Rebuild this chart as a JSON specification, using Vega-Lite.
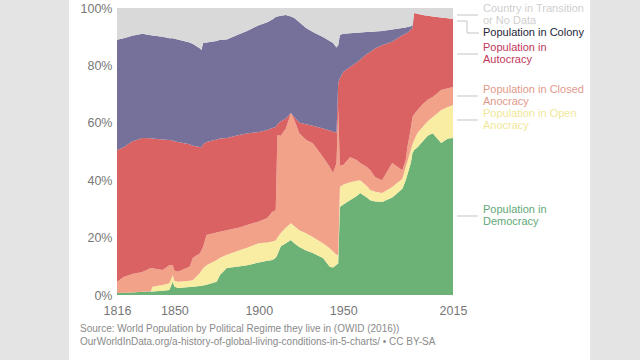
{
  "$schema": "https://vega.github.io/schema/vega-lite/v6.json",
  "width": 336,
  "height": 287,
  "autosize": {"type": "none"},
  "padding": {"left": 117, "top": 8, "right": 187, "bottom": 65},
  "background": "#ffffff",
  "config": {"view": {"stroke": null}, "font": "Liberation Sans"},
  "layer": [
    {
      "data": {"values": [
        {"year":1816,"1_Dem":0.7,"2_Open":0,"3_Closed":3.9,"4_Auto":45.9,"5_Colony":38.4,"6_Trans":11.1},
        {"year":1820,"1_Dem":0.8,"2_Open":0,"3_Closed":5.5,"4_Auto":45.2,"5_Colony":38,"6_Trans":10.5},
        {"year":1825,"1_Dem":0.9,"2_Open":0,"3_Closed":6.4,"4_Auto":46.2,"5_Colony":36.8,"6_Trans":9.7},
        {"year":1831,"1_Dem":1.1,"2_Open":0,"3_Closed":6.9,"4_Auto":46.7,"5_Colony":36.3,"6_Trans":9},
        {"year":1836,"1_Dem":1.2,"2_Open":0,"3_Closed":8.2,"4_Auto":45.2,"5_Colony":35.9,"6_Trans":9.5},
        {"year":1837,"1_Dem":1.2,"2_Open":1.7,"3_Closed":6.4,"4_Auto":45.2,"5_Colony":35.9,"6_Trans":9.6},
        {"year":1843,"1_Dem":1.5,"2_Open":2,"3_Closed":5.2,"4_Auto":45.5,"5_Colony":35.8,"6_Trans":10},
        {"year":1847,"1_Dem":1.7,"2_Open":2.4,"3_Closed":6.3,"4_Auto":43.6,"5_Colony":35.5,"6_Trans":10.5},
        {"year":1849,"1_Dem":4.6,"2_Open":2.4,"3_Closed":3.4,"4_Auto":43.4,"5_Colony":35.7,"6_Trans":10.5},
        {"year":1850,"1_Dem":3,"2_Open":2,"3_Closed":3.5,"4_Auto":45.1,"5_Colony":35.7,"6_Trans":10.7},
        {"year":1852,"1_Dem":2.4,"2_Open":2.2,"3_Closed":3.5,"4_Auto":45.2,"5_Colony":35.7,"6_Trans":11},
        {"year":1859,"1_Dem":2.8,"2_Open":2.2,"3_Closed":4.8,"4_Auto":42.7,"5_Colony":35.5,"6_Trans":12},
        {"year":1861,"1_Dem":2.9,"2_Open":2.3,"3_Closed":7.8,"4_Auto":39,"5_Colony":35.5,"6_Trans":12.5},
        {"year":1865,"1_Dem":3.1,"2_Open":4.5,"3_Closed":6.9,"4_Auto":37.1,"5_Colony":34.4,"6_Trans":14},
        {"year":1866,"1_Dem":3.2,"2_Open":5.3,"3_Closed":7,"4_Auto":35.9,"5_Colony":34,"6_Trans":14.6},
        {"year":1867,"1_Dem":3.3,"2_Open":6,"3_Closed":7.5,"4_Auto":35.7,"5_Colony":35.3,"6_Trans":12.2},
        {"year":1869,"1_Dem":3.6,"2_Open":6.8,"3_Closed":10.5,"4_Auto":32.4,"5_Colony":34.7,"6_Trans":12},
        {"year":1875,"1_Dem":4.6,"2_Open":7.6,"3_Closed":9.6,"4_Auto":32.4,"5_Colony":34.3,"6_Trans":11.5},
        {"year":1877,"1_Dem":7,"2_Open":6,"3_Closed":9,"4_Auto":32.5,"5_Colony":34.4,"6_Trans":11.1},
        {"year":1881,"1_Dem":9.4,"2_Open":4.6,"3_Closed":8.6,"4_Auto":32.1,"5_Colony":34.3,"6_Trans":11},
        {"year":1889,"1_Dem":10,"2_Open":5.7,"3_Closed":7.9,"4_Auto":32.2,"5_Colony":35.2,"6_Trans":9},
        {"year":1893,"1_Dem":10.4,"2_Open":6.1,"3_Closed":7.9,"4_Auto":31.9,"5_Colony":35.7,"6_Trans":8},
        {"year":1900,"1_Dem":11.3,"2_Open":6.7,"3_Closed":7.6,"4_Auto":31.2,"5_Colony":37.2,"6_Trans":6},
        {"year":1905,"1_Dem":11.9,"2_Open":6.4,"3_Closed":8.5,"4_Auto":30.7,"5_Colony":37.5,"6_Trans":5},
        {"year":1908,"1_Dem":12.2,"2_Open":6.4,"3_Closed":10.4,"4_Auto":29.2,"5_Colony":37.8,"6_Trans":4},
        {"year":1910,"1_Dem":13,"2_Open":6,"3_Closed":10.5,"4_Auto":29,"5_Colony":38.4,"6_Trans":3.1},
        {"year":1911,"1_Dem":14,"2_Open":6,"3_Closed":35.7,"4_Auto":3.8,"5_Colony":37.5,"6_Trans":3},
        {"year":1913,"1_Dem":17,"2_Open":4.6,"3_Closed":33.9,"4_Auto":5,"5_Colony":36.8,"6_Trans":2.7},
        {"year":1916,"1_Dem":18,"2_Open":5.5,"3_Closed":34.5,"4_Auto":3.5,"5_Colony":36.1,"6_Trans":2.4},
        {"year":1919,"1_Dem":19.2,"2_Open":5.8,"3_Closed":38.4,"4_Auto":0,"5_Colony":33.6,"6_Trans":3},
        {"year":1921,"1_Dem":18,"2_Open":6,"3_Closed":37,"4_Auto":1,"5_Colony":34.5,"6_Trans":3.5},
        {"year":1924,"1_Dem":16.7,"2_Open":5.9,"3_Closed":33.8,"4_Auto":3.6,"5_Colony":35,"6_Trans":5},
        {"year":1928,"1_Dem":15.5,"2_Open":6,"3_Closed":32.5,"4_Auto":5.5,"5_Colony":33.5,"6_Trans":7},
        {"year":1932,"1_Dem":14.6,"2_Open":5.6,"3_Closed":32.7,"4_Auto":6.1,"5_Colony":32.6,"6_Trans":8.4},
        {"year":1938,"1_Dem":12.9,"2_Open":5.1,"3_Closed":30.1,"4_Auto":9.9,"5_Colony":31.9,"6_Trans":10.1},
        {"year":1942,"1_Dem":9.8,"2_Open":6.5,"3_Closed":28.3,"4_Auto":12.7,"5_Colony":31.2,"6_Trans":11.5},
        {"year":1944,"1_Dem":9.6,"2_Open":5.6,"3_Closed":27.3,"4_Auto":14.5,"5_Colony":30.8,"6_Trans":12.2},
        {"year":1946,"1_Dem":10.5,"2_Open":3.5,"3_Closed":32,"4_Auto":10.5,"5_Colony":29.7,"6_Trans":13.8},
        {"year":1947,"1_Dem":11,"2_Open":3,"3_Closed":51,"4_Auto":8.9,"5_Colony":13.1,"6_Trans":13},
        {"year":1948,"1_Dem":30.7,"2_Open":6.9,"3_Closed":7.4,"4_Auto":30.5,"5_Colony":15.1,"6_Trans":9.4},
        {"year":1950,"1_Dem":31.5,"2_Open":7,"3_Closed":6.8,"4_Auto":32.4,"5_Colony":13.3,"6_Trans":9},
        {"year":1954,"1_Dem":33,"2_Open":6.3,"3_Closed":8.7,"4_Auto":31.4,"5_Colony":11.8,"6_Trans":8.8},
        {"year":1958,"1_Dem":34.5,"2_Open":5.3,"3_Closed":7.2,"4_Auto":34,"5_Colony":10.4,"6_Trans":8.6},
        {"year":1960,"1_Dem":35.5,"2_Open":4.5,"3_Closed":6,"4_Auto":36,"5_Colony":9.5,"6_Trans":8.5},
        {"year":1964,"1_Dem":34,"2_Open":4,"3_Closed":6.6,"4_Auto":39.4,"5_Colony":7.6,"6_Trans":8.4},
        {"year":1966,"1_Dem":33,"2_Open":3.6,"3_Closed":6.9,"4_Auto":41.2,"5_Colony":6.9,"6_Trans":8.4},
        {"year":1969,"1_Dem":32.6,"2_Open":3.4,"3_Closed":5,"4_Auto":45,"5_Colony":5.8,"6_Trans":8.2},
        {"year":1973,"1_Dem":32.4,"2_Open":3.1,"3_Closed":4.5,"4_Auto":47,"5_Colony":5,"6_Trans":8},
        {"year":1979,"1_Dem":34,"2_Open":3.6,"3_Closed":8.4,"4_Auto":42.2,"5_Colony":4.3,"6_Trans":7.5},
        {"year":1985,"1_Dem":37,"2_Open":3.5,"3_Closed":3,"4_Auto":47,"5_Colony":2.5,"6_Trans":7},
        {"year":1987,"1_Dem":40,"2_Open":4.6,"3_Closed":2.4,"4_Auto":44,"5_Colony":2.2,"6_Trans":6.8},
        {"year":1988,"1_Dem":42,"2_Open":4.5,"3_Closed":5.1,"4_Auto":39.7,"5_Colony":2.1,"6_Trans":6.6},
        {"year":1990,"1_Dem":46,"2_Open":4.5,"3_Closed":7.5,"4_Auto":34.5,"5_Colony":1.1,"6_Trans":6.4},
        {"year":1991,"1_Dem":49.5,"2_Open":3,"3_Closed":9.5,"4_Auto":31,"5_Colony":1,"6_Trans":6},
        {"year":1992,"1_Dem":50.5,"2_Open":3.5,"3_Closed":9,"4_Auto":35.3,"5_Colony":0,"6_Trans":1.7},
        {"year":1994,"1_Dem":51.5,"2_Open":5,"3_Closed":8,"4_Auto":33.5,"5_Colony":0,"6_Trans":2},
        {"year":1997,"1_Dem":53.5,"2_Open":5,"3_Closed":8,"4_Auto":31.1,"5_Colony":0,"6_Trans":2.4},
        {"year":2000,"1_Dem":55.5,"2_Open":5,"3_Closed":7.5,"4_Auto":29.3,"5_Colony":0,"6_Trans":2.7},
        {"year":2003,"1_Dem":56.4,"2_Open":5.6,"3_Closed":7,"4_Auto":28,"5_Colony":0,"6_Trans":3},
        {"year":2008,"1_Dem":53,"2_Open":11.5,"3_Closed":6.9,"4_Auto":25.3,"5_Colony":0,"6_Trans":3.3},
        {"year":2012,"1_Dem":54.5,"2_Open":11,"3_Closed":6.5,"4_Auto":24.4,"5_Colony":0,"6_Trans":3.6},
        {"year":2015,"1_Dem":54.7,"2_Open":11.5,"3_Closed":6.3,"4_Auto":23.7,"5_Colony":0,"6_Trans":3.8}
      ]},
      "transform": [{"fold": ["1_Dem","2_Open","3_Closed","4_Auto","5_Colony","6_Trans"], "as": ["regime","share"]}],
      "mark": {"type": "area", "interpolate": "linear"},
      "encoding": {
        "x": {"field": "year", "type": "quantitative",
          "scale": {"domain": [1816, 2015], "nice": false, "zero": false},
          "axis": {"values": [1816,1850,1900,1950,2015], "format": "d", "title": null, "domain": false, "ticks": false, "grid": false,
            "labelFontSize": 12.5, "labelColor": "#777777", "labelPadding": 9, "labelFlush": false}},
        "y": {"field": "share", "type": "quantitative", "stack": "zero",
          "scale": {"domain": [0, 100], "nice": false},
          "axis": {"values": [0,20,40,60,80,100], "labelExpr": "datum.value + '%'", "title": null, "domain": false, "ticks": false, "grid": false,
            "labelFontSize": 12.5, "labelColor": "#777777", "labelPadding": 5}},
        "order": {"field": "regime", "sort": "ascending"},
        "color": {"field": "regime", "type": "nominal",
          "scale": {"domain": ["1_Dem","2_Open","3_Closed","4_Auto","5_Colony","6_Trans"], "range": ["#6cb277","#f8eda2","#f1a288","#da6262","#75719b","#d9d9d9"]},
          "legend": null}
      }
    },
    {
      "data": {"values": [{}]},
      "mark": {"type": "rect", "color": "#e4e4e4", "clip": false},
      "encoding": {
        "x": {"datum": 1700, "type": "quantitative"},
        "x2": {"datum": 1787.6},
        "y": {"datum": -40, "type": "quantitative"},
        "y2": {"datum": 110}
      }
    },
    {
      "data": {"values": [{}]},
      "mark": {"type": "rect", "color": "#e4e4e4", "clip": false},
      "encoding": {
        "x": {"datum": 2096.2, "type": "quantitative"},
        "x2": {"datum": 2200},
        "y": {"datum": -40, "type": "quantitative"},
        "y2": {"datum": 110}
      }
    },
    {"data": {"values": [{}]}, "mark": {"type": "rule", "color": "#c4c4c4", "clip": false},
     "encoding": {"x": {"datum": 2017.4, "type": "quantitative"}, "x2": {"datum": 2029.8}, "y": {"datum": 97.56, "type": "quantitative"}}},
    {"data": {"values": [{}]}, "mark": {"type": "rule", "color": "#c4c4c4", "clip": false},
     "encoding": {"x": {"datum": 2017.4, "type": "quantitative"}, "x2": {"datum": 2023.3}, "y": {"datum": 95.47, "type": "quantitative"}}},
    {"data": {"values": [{}]}, "mark": {"type": "rule", "color": "#c4c4c4", "clip": false},
     "encoding": {"x": {"datum": 2023.3, "type": "quantitative"}, "y": {"datum": 95.47, "type": "quantitative"}, "y2": {"datum": 91.29}}},
    {"data": {"values": [{}]}, "mark": {"type": "rule", "color": "#c4c4c4", "clip": false},
     "encoding": {"x": {"datum": 2023.3, "type": "quantitative"}, "x2": {"datum": 2030.4}, "y": {"datum": 91.29, "type": "quantitative"}}},
    {"data": {"values": [{}]}, "mark": {"type": "rule", "color": "#c4c4c4", "clip": false},
     "encoding": {"x": {"datum": 2017.4, "type": "quantitative"}, "x2": {"datum": 2029.8}, "y": {"datum": 83.97, "type": "quantitative"}}},
    {"data": {"values": [{}]}, "mark": {"type": "rule", "color": "#c4c4c4", "clip": false},
     "encoding": {"x": {"datum": 2017.4, "type": "quantitative"}, "x2": {"datum": 2029.8}, "y": {"datum": 69.34, "type": "quantitative"}}},
    {"data": {"values": [{}]}, "mark": {"type": "rule", "color": "#c4c4c4", "clip": false},
     "encoding": {"x": {"datum": 2017.4, "type": "quantitative"}, "x2": {"datum": 2029.8}, "y": {"datum": 60.98, "type": "quantitative"}}},
    {"data": {"values": [{}]}, "mark": {"type": "rule", "color": "#c4c4c4", "clip": false},
     "encoding": {"x": {"datum": 2017.4, "type": "quantitative"}, "x2": {"datum": 2029.8}, "y": {"datum": 27.53, "type": "quantitative"}}},
    {"data": {"values": [{}]}, "mark": {"type": "text", "text": ["Country in Transition", "or No Data"], "align": "left", "baseline": "middle", "dx": 30, "dy": -5.75, "fontSize": 11, "lineHeight": 11.5, "color": "#cfcfcf", "clip": false},
     "encoding": {"x": {"datum": 2015, "type": "quantitative"}, "y": {"datum": 97.56, "type": "quantitative"}}},
    {"data": {"values": [{}]}, "mark": {"type": "text", "text": "Population in Colony", "align": "left", "baseline": "middle", "dx": 30, "fontSize": 11, "color": "#262637", "clip": false},
     "encoding": {"x": {"datum": 2015, "type": "quantitative"}, "y": {"datum": 91.29, "type": "quantitative"}}},
    {"data": {"values": [{}]}, "mark": {"type": "text", "text": ["Population in", "Autocracy"], "align": "left", "baseline": "middle", "dx": 30, "dy": -6, "fontSize": 11, "lineHeight": 12, "color": "#c2375c", "clip": false},
     "encoding": {"x": {"datum": 2015, "type": "quantitative"}, "y": {"datum": 83.97, "type": "quantitative"}}},
    {"data": {"values": [{}]}, "mark": {"type": "text", "text": ["Population in Closed", "Anocracy"], "align": "left", "baseline": "middle", "dx": 30, "dy": -6, "fontSize": 11, "lineHeight": 12, "color": "#e2998c", "clip": false},
     "encoding": {"x": {"datum": 2015, "type": "quantitative"}, "y": {"datum": 69.34, "type": "quantitative"}}},
    {"data": {"values": [{}]}, "mark": {"type": "text", "text": ["Population in Open", "Anocracy"], "align": "left", "baseline": "middle", "dx": 30, "dy": -6, "fontSize": 11, "lineHeight": 12, "color": "#f0e898", "clip": false},
     "encoding": {"x": {"datum": 2015, "type": "quantitative"}, "y": {"datum": 60.98, "type": "quantitative"}}},
    {"data": {"values": [{}]}, "mark": {"type": "text", "text": ["Population in", "Democracy"], "align": "left", "baseline": "middle", "dx": 30, "dy": -6, "fontSize": 11, "lineHeight": 12, "color": "#62a878", "clip": false},
     "encoding": {"x": {"datum": 2015, "type": "quantitative"}, "y": {"datum": 27.53, "type": "quantitative"}}},
    {"data": {"values": [{}]}, "mark": {"type": "text", "text": ["Source: World Population by Political Regime they live in (OWID (2016))", "OurWorldInData.org/a-history-of-global-living-conditions-in-5-charts/ • CC BY-SA"], "align": "left", "baseline": "middle", "dy": -5, "fontSize": 10, "lineHeight": 12.5, "color": "#8a8a8a", "clip": false},
     "encoding": {"x": {"datum": 1794.1, "type": "quantitative"}, "y": {"datum": -13.6, "type": "quantitative"}}}
  ]
}
